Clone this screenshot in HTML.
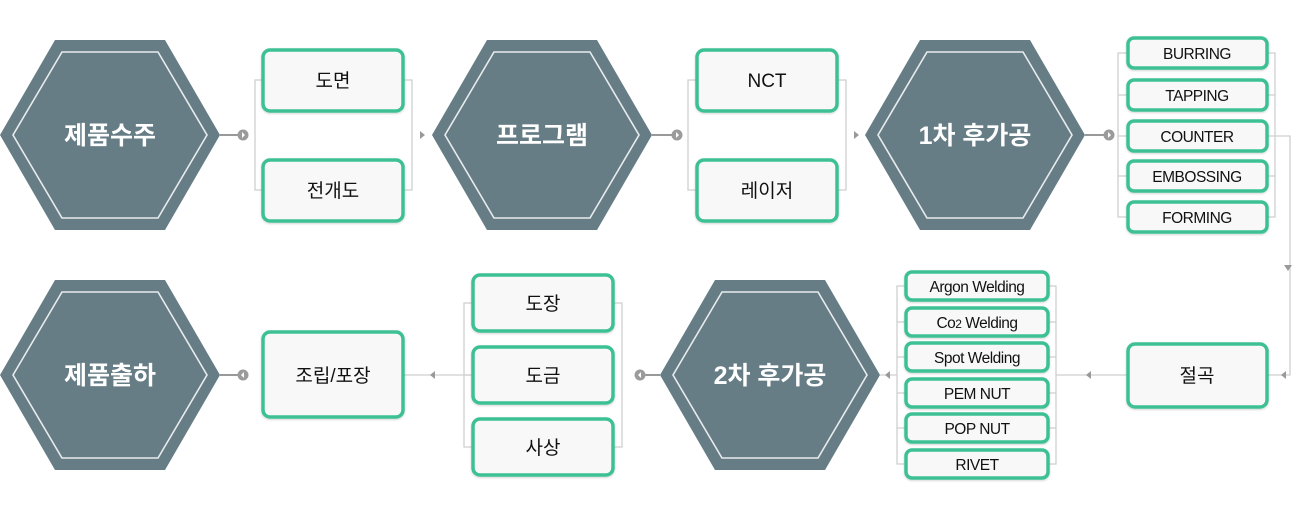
<!DOCTYPE html>
<html><head><meta charset="utf-8"><style>
html,body{margin:0;padding:0;background:#fff;}
svg{display:block}
text{font-family:"Liberation Sans","Noto Sans CJK KR",sans-serif;}
</style></head><body>
<svg width="1300" height="511" viewBox="0 0 1300 511" xmlns="http://www.w3.org/2000/svg">
<defs>
<g id="hx">
<polygon points="0,95 55,0 165,0 220,95 165,190 55,190" fill="#667d86"/>
<polygon points="13,95 62,12 158,12 207,95 158,178 62,178" fill="none" stroke="#e8eced" stroke-width="1.6"/>
</g>
<filter id="sh" x="-10%" y="-10%" width="120%" height="130%"><feDropShadow dx="0" dy="1" stdDeviation="1" flood-color="#000" flood-opacity="0.18"/></filter>
</defs>
<g fill="none" stroke="#cfcfcf" stroke-width="1.3">
<path d="M262,80H255V190H262 M403,80H412V190H403"/>
<path d="M696,80H688V190H696 M837,80H846V190H837"/>
<path d="M1127,53H1118V217H1127 M1118,95H1127 M1118,136H1127 M1118,176H1127"/>
<path d="M1267,53H1275V217H1267 M1267,95H1275 M1267,176H1275"/>
<path d="M1267,136H1290V375H1267"/>
<path d="M1127,375H1056"/>
<path d="M905,286H897V464H905 M897,322H905 M897,357H905 M897,393H905 M897,428H905"/>
<path d="M1048,286H1056V464H1048 M1048,322H1056 M1048,357H1056 M1048,393H1056 M1048,428H1056"/>
<path d="M897,375H880"/>
<path d="M472,303H464V447H472 M613,303H622V447H613 M472,375H403"/>
<path d="M464,375H472"/>
</g>
<g fill="#999">
<path d="M420,131L425,135L420,139Z"/>
<path d="M854,131L859,135L854,139Z"/>
<path d="M1284,265L1292,265L1288,271Z"/>
<path d="M1286,371L1281,375L1286,379Z"/>
<path d="M1091,371L1086,375L1091,379Z"/>
<path d="M890,371L885,375L890,379Z"/>
<path d="M435,371L430,375L435,379Z"/>
</g>
<g stroke="#999" stroke-width="2" fill="none">
<path d="M220,135H240 M652,135H672 M1085,135H1105 M660,375H645 M220,375H240"/>
</g>
<g fill="#9b9b9b">
<circle cx="243" cy="135" r="5.5"/><circle cx="677" cy="135" r="5.5"/><circle cx="1109" cy="135" r="5.5"/>
<circle cx="640" cy="375" r="5.5"/><circle cx="243" cy="375" r="5.5"/>
</g>
<g fill="#fff">
<path d="M242,132L245,135L242,138Z"/><path d="M676,132L679,135L676,138Z"/><path d="M1108,132L1111,135L1108,138Z"/>
<path d="M641,372L638,375L641,378Z"/><path d="M244,372L241,375L244,378Z"/>
</g>
<use href="#hx" x="0" y="40"/>
<use href="#hx" x="432" y="40"/>
<use href="#hx" x="865" y="40"/>
<use href="#hx" x="660" y="280"/>
<use href="#hx" x="0" y="280"/>
<g fill="#fff" font-size="25" font-weight="bold" text-anchor="middle">
<text x="110" y="144">제품수주</text>
<text x="542" y="144">프로그램</text>
<text x="975" y="144">1차 후가공</text>
<text x="770" y="384">2차 후가공</text>
<text x="110" y="384">제품출하</text>
</g>
<g fill="#f8f8f8" stroke="#3cc194" stroke-width="3.5" filter="url(#sh)">
<rect x="263" y="50" width="140" height="61" rx="7"/>
<rect x="263" y="160" width="140" height="61" rx="7"/>
<rect x="697" y="50" width="140" height="61" rx="7"/>
<rect x="697" y="160" width="140" height="61" rx="7"/>
<rect x="1128" y="38" width="139" height="30" rx="6"/>
<rect x="1128" y="80" width="139" height="30" rx="6"/>
<rect x="1128" y="121" width="139" height="30" rx="6"/>
<rect x="1128" y="161" width="139" height="30" rx="6"/>
<rect x="1128" y="202" width="139" height="30" rx="6"/>
<rect x="1128" y="344" width="139" height="63" rx="7"/>
<rect x="906" y="272" width="142" height="28" rx="6"/>
<rect x="906" y="308" width="142" height="28" rx="6"/>
<rect x="906" y="343" width="142" height="28" rx="6"/>
<rect x="906" y="379" width="142" height="28" rx="6"/>
<rect x="906" y="414" width="142" height="28" rx="6"/>
<rect x="906" y="450" width="142" height="28" rx="6"/>
<rect x="473" y="275" width="140" height="56" rx="7"/>
<rect x="473" y="347" width="140" height="56" rx="7"/>
<rect x="473" y="419" width="140" height="56" rx="7"/>
<rect x="263" y="332" width="140" height="85" rx="7"/>
</g>
<g fill="#111" text-anchor="middle" font-size="19">
<text x="333" y="87">도면</text>
<text x="333" y="197">전개도</text>
<text x="767" y="87">NCT</text>
<text x="767" y="197">레이저</text>
<text x="1197" y="382">절곡</text>
<text x="543" y="310">도장</text>
<text x="543" y="382">도금</text>
<text x="543" y="454">사상</text>
<text x="333" y="382">조립/포장</text>
</g>
<g fill="#111" text-anchor="middle" font-size="15.5" letter-spacing="-0.5">
<text x="1197" y="59">BURRING</text>
<text x="1197" y="101">TAPPING</text>
<text x="1197" y="142">COUNTER</text>
<text x="1197" y="182">EMBOSSING</text>
<text x="1197" y="223">FORMING</text>
<text x="977" y="292">Argon Welding</text>
<text x="977" y="328">Co<tspan font-size="12">2</tspan> Welding</text>
<text x="977" y="363">Spot Welding</text>
<text x="977" y="399">PEM NUT</text>
<text x="977" y="434">POP NUT</text>
<text x="977" y="470">RIVET</text>
</g>
</svg>
</body></html>
